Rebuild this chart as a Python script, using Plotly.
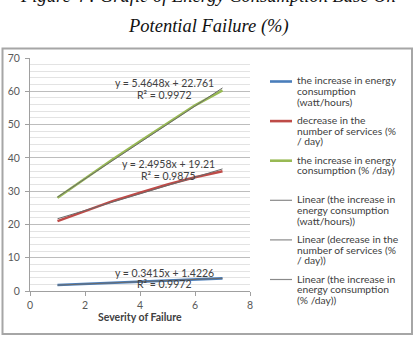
import plotly.graph_objects as go

# ---- data ----
severity = [1, 2, 3, 4, 5, 6, 7]
energy_wh = [1.8, 2.1, 2.5, 2.8, 3.1, 3.5, 3.8]
services_pct = [21.0, 24.0, 27.0, 29.5, 32.0, 34.2, 36.0]
energy_pct = [28.0, 33.8, 39.5, 45.0, 50.5, 55.8, 60.3]

trend_slopes = [0.3415, 2.4958, 5.4648]
trend_intercepts = [1.4226, 19.21, 22.761]
trend_r2 = ["0.9972", "0.9875", "0.9972"]

series_names = [
    "the increase in energy<br>consumption<br>(watt/hours)",
    "decrease in the<br>number of services (%<br>/ day)",
    "the increase in energy<br>consumption (% /day)",
]
trend_names = [
    "Linear (the increase in<br>energy consumption<br>(watt/hours))",
    "Linear (decrease in the<br>number of services (%<br>/ day))",
    "Linear (the increase in<br>energy consumption<br>(% /day))",
]
series_colors = ["#4a7ebb", "#be4b48", "#98b954"]
trend_color = "#6a6a6a"

x_ticks = [0, 2, 4, 6, 8]
y_ticks = [0, 10, 20, 30, 40, 50, 60, 70]

title_lines = ["Figure 4 : Grafic of Energy Consumption Base On", "Potential Failure (%)"]
x_title = "Severity of Failure"

# ---- layout geometry (pixels) ----
W, H = 416, 340
L, R, T, B = 30, 250, 58, 291  # plot area
pw, ph = R - L, B - T


def px(x):
    return (x - L) / pw


def py(y):
    return (B - y) / ph


FONT = "Lato"
TXT = "#404040"
fig = go.Figure()

all_series = [energy_wh, services_pct, energy_pct]
for vals, col, name in zip(all_series, series_colors, series_names):
    fig.add_trace(go.Scatter(x=severity, y=vals, mode="lines", name=name.replace("<br>", " "),
                             line=dict(color=col, width=2.6), showlegend=False))

for m, c, name in zip(trend_slopes, trend_intercepts, trend_names):
    xs = [severity[0], severity[-1]]
    ys = [m * xv + c for xv in xs]
    fig.add_trace(go.Scatter(x=xs, y=ys, mode="lines", name=name.replace("<br>", " "),
                             line=dict(color=trend_color, width=1), showlegend=False))

annotations = []
shapes = []


def label(x, y, text, size=10.5, color=TXT, family=FONT, xanchor="center"):
    annotations.append(dict(x=px(x), y=py(y), xref="paper", yref="paper", text=text,
                            showarrow=False, xanchor=xanchor, yanchor="middle",
                            font=dict(family=family, size=size, color=color)))


# trendline equations
eq_pos = [(164, 273, 284), (168, 164, 176), (164, 83, 95)]
for (m, c, r2, (cx, y1, y2)) in zip(trend_slopes, trend_intercepts, trend_r2, eq_pos):
    label(cx, y1, f"y = {m}x + {c}")
    label(cx, y2, f"R² = {r2}")

# manual legend
legend_entries = list(zip(series_names, series_colors, [2.6] * 3)) + \
    list(zip(trend_names, ["#8a8a8a"] * 3, [1.2] * 3))
for i, (name, col, w) in enumerate(legend_entries):
    y0 = 80.5 + 39.6 * i
    shapes.append(dict(type="line", xref="paper", yref="paper",
                       x0=px(270), x1=px(292), y0=py(y0 + 1), y1=py(y0 + 1),
                       line=dict(color=col, width=w)))
    for j, line in enumerate(name.split("<br>")):
        label(295, y0 + 10.6 * j, line, size=10.3, xanchor="left")

# axis title
label(140, 317, f"<b>{x_title}</b>")

# figure title
for txt, yy in zip(title_lines, [-4, 27]):
    label(208, yy, f"<i>{txt}</i>", size=18.5, color="#111111", family="Liberation Serif")

# chart frame
shapes.append(dict(type="rect", xref="paper", yref="paper", x0=px(2.5), x1=px(412), y0=py(334),
                   y1=py(48.5), line=dict(color="#a6a6a6", width=2), layer="below"))

fig.update_layout(
    width=W, height=H,
    margin=dict(l=L, r=W - R, t=T, b=H - B, pad=0),
    paper_bgcolor="white", plot_bgcolor="white",
    showlegend=False,
    annotations=annotations, shapes=shapes,
    font=dict(family=FONT, size=10.5, color="#595959"),
)
fig.update_xaxes(range=[0, 8], tickvals=x_ticks, showgrid=False, zeroline=False,
                 showline=True, linecolor="#a0a0a0", linewidth=1,
                 ticks="outside", ticklen=4, tickcolor="#a0a0a0", automargin=False,
                 tickfont=dict(family=FONT, size=10.5, color="#595959"))
fig.update_yaxes(range=[0, 70], tickvals=y_ticks, showgrid=True, gridcolor="#bdbdbd", gridwidth=1,
                 zeroline=False, showline=True, linecolor="#a0a0a0", linewidth=1,
                 ticks="outside", ticklen=4, tickcolor="#a0a0a0", automargin=False,
                 ticklabelstandoff=3,
                 minor=dict(dtick=2, showgrid=True, gridcolor="#e3e3e3", gridwidth=1),
                 tickfont=dict(family=FONT, size=10.5, color="#595959"))

fig.write_html("out.html")
